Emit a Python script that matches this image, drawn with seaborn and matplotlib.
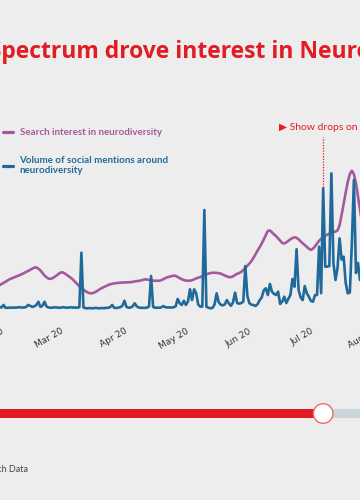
import numpy as np
import pandas as pd
import matplotlib
matplotlib.use("Agg")
import matplotlib.pyplot as plt
import matplotlib.dates as mdates
from matplotlib.lines import Line2D
from matplotlib.patches import Circle, Rectangle
import seaborn as sns

BG = "#eeeded"
RED = "#e31b23"
PURPLE = "#a3599e"
BLUE = "#1f6a9a"

# daily values from 14 Feb 2020, index 0-100 style
search_interest = [
    15.0, 15.9, 16.8, 17.7, 18.5, 19.4, 20.2, 21.1, 22.0, 22.6,
    23.2, 23.8, 24.4, 25.0, 25.7, 26.4, 27.2, 27.9, 28.7, 29.5,
    30.3, 30.4, 29.5, 28.3, 26.5, 24.6, 23.3, 22.4, 22.2, 22.8,
    23.7, 24.9, 26.0, 26.8, 26.8, 26.0, 24.9, 23.9, 22.8, 21.5,
    20.0, 18.5, 17.0, 15.8, 14.6, 13.5, 12.6, 12.0, 11.9, 12.3,
    13.0, 13.9, 14.9, 15.7, 16.4, 17.1, 17.8, 18.4, 18.7, 19.0,
    19.2, 19.4, 19.5, 19.6, 19.7, 19.7, 19.8, 19.9, 20.1, 20.4,
    20.6, 20.8, 21.1, 21.5, 21.9, 21.8, 21.5, 21.2, 21.0, 20.9,
    20.9, 20.9, 21.3, 22.0, 22.8, 23.4, 23.8, 24.2, 24.5, 24.4,
    23.6, 22.7, 22.0, 21.4, 21.0, 20.9, 20.9, 21.3, 21.9, 22.5,
    23.1, 23.5, 24.2, 24.9, 25.5, 26.0, 26.4, 26.6, 26.6, 26.5,
    26.3, 26.0, 25.3, 24.6, 24.0, 23.5, 23.5, 24.1, 25.0, 25.8,
    26.4, 27.2, 28.5, 30.0, 31.6, 33.2, 35.0, 37.3, 39.9, 42.5,
    44.9, 47.5, 50.4, 53.6, 56.5, 56.8, 55.5, 54.0, 52.8, 51.2,
    49.5, 47.9, 47.5, 48.3, 49.4, 50.5, 51.4, 51.9, 51.6, 50.5,
    49.0, 47.7, 46.4, 45.0, 43.8, 43.0, 43.7, 45.5, 47.5, 49.5,
    50.8, 51.9, 53.0, 53.8, 54.6, 55.2, 55.6, 56.0, 56.8, 60.5,
    68.0, 76.0, 84.0, 91.5, 97.0, 99.5, 97.0, 90.5, 81.0, 71.0,
    62.0, 55.0, 50.0,
]
social_mentions = [
    2.0, 1.8, 1.9, 2.2, 1.8, 3.6, 1.5, 1.6, 1.7, 1.6,
    1.8, 1.6, 1.9, 2.0, 1.7, 1.8, 2.1, 3.6, 3.0, 2.2,
    2.6, 3.5, 5.9, 2.2, 3.0, 5.9, 2.4, 1.8, 1.6, 1.7,
    1.9, 1.8, 1.6, 1.7, 2.0, 1.8, 1.6, 1.8, 1.9, 1.7,
    1.8, 1.6, 2.0, 40.9, 1.8, 1.3, 1.2, 1.4, 1.2, 1.3,
    1.5, 1.3, 1.2, 1.4, 1.3, 1.5, 1.6, 2.0, 3.6, 1.6,
    1.4, 1.7, 2.0, 3.0, 6.6, 2.2, 1.6, 1.8, 2.6, 4.8,
    2.6, 1.8, 1.5, 1.6, 1.5, 1.7, 2.5, 24.3, 2.2, 1.6,
    1.7, 1.6, 1.9, 2.8, 2.0, 1.8, 1.9, 1.7, 2.0, 2.6,
    7.9, 4.8, 3.6, 6.6, 3.6, 6.0, 14.8, 7.1, 14.8, 12.1,
    4.0, 2.4, 2.4, 71.4, 2.4, 1.6, 1.2, 1.5, 4.0, 11.9,
    5.5, 3.8, 3.3, 4.0, 7.1, 4.6, 3.0, 5.5, 12.4, 5.0,
    4.5, 5.0, 6.0, 31.4, 10.0, 4.8, 3.8, 3.5, 2.9, 4.2,
    7.0, 9.0, 14.0, 15.5, 10.7, 18.6, 13.1, 11.5, 10.7, 13.1,
    4.3, 6.0, 9.5, 5.0, 8.0, 10.7, 22.1, 16.6, 43.4, 14.3,
    9.0, 7.1, 17.1, 12.0, 9.5, 6.5, 5.9, 10.7, 10.7, 45.2,
    12.0, 86.9, 30.9, 31.0, 31.4, 97.6, 33.4, 21.4, 30.0, 51.2,
    36.0, 38.1, 19.1, 11.9, 12.5, 47.9, 92.9, 26.4, 33.6, 21.4,
    35.0, 28.0, 30.0,
]
series_names = ["Search interest in neurodiversity",
                "Volume of social mentions around\nneurodiversity"]
tick_dates = pd.to_datetime(["2020-02-20", "2020-03-20", "2020-04-20", "2020-05-20",
                             "2020-06-20", "2020-07-20", "2020-08-20"])
show_drop = pd.Timestamp("2020-07-24")

dates = pd.date_range("2020-02-14", periods=len(search_interest), freq="D")
df = pd.DataFrame({"date": dates,
                   series_names[0]: search_interest,
                   series_names[1]: social_mentions})
long_df = df.melt(id_vars="date", var_name="series", value_name="value")

sns.set_style("white")
plt.rcParams["font.family"] = ["Lato", "DejaVu Sans"]

fig = plt.figure(figsize=(3.6, 5), dpi=100)
fig.patch.set_facecolor(BG)

# axes run past the figure edges, like a crop of a wider chart
ax = fig.add_axes([-0.08125, 0.38, 1.16681, 0.378])
ax.set_facecolor(BG)
sns.lineplot(data=long_df, x="date", y="value", hue="series",
             hue_order=series_names, palette=[PURPLE, BLUE],
             linewidth=1.9, legend=False, ax=ax)

ax.set_xlim(pd.Timestamp("2020-02-03"), pd.Timestamp("2020-08-26"))
ax.set_ylim(0, 135)
ax.set_xticks(tick_dates)
ax.xaxis.set_major_formatter(mdates.DateFormatter("%b %d"))
ax.set_yticks([])
ax.set_xlabel("")
ax.set_ylabel("")
ax.tick_params(axis="x", length=0, pad=12, labelsize=6.5, labelcolor="#333333")
for lab in ax.get_xticklabels():
    lab.set_rotation(30)
    lab.set_ha("right")
    lab.set_family("DejaVu Sans")
sns.despine(ax=ax, left=True, bottom=True)

# show release marker
peak = df.loc[df["date"] == show_drop, series_names[1]].iloc[0]
ax.vlines(show_drop, peak + 1, 123.6, colors=RED, linestyles=(0, (1, 1.2)), lw=0.9)
ax.annotate("\u25B6 Show drops on Netflix", xy=(show_drop, 123.6),
            xytext=(-32, 7), textcoords="offset points",
            ha="left", va="center", color=RED, fontsize=7.5)

handles = [Line2D([0], [0], color=PURPLE, lw=2.3),
           Line2D([0], [0], color=BLUE, lw=2.3)]
fig.legend(handles, series_names, loc="upper left",
           bbox_to_anchor=(3 / 360, 1 - 128 / 500), frameon=False,
           handlelength=1.0, handletextpad=0.7, labelspacing=1.95,
           borderpad=0, borderaxespad=0,
           prop=dict(family="Lato", weight="bold", size=7),
           labelcolor=[PURPLE, BLUE])

fig.text(-150 / 360, 1 - 52 / 500,
         "Love on the Spectrum drove interest in Neurodiversity",
         color=RED, fontsize=16.5, weight="bold", family="Open Sans",
         ha="left", va="center")

fig.text(28 / 360, 1 - 470 / 500, "Source: Google Trends, Brandwatch Data",
         ha="right", va="center", fontsize=6.5, color="#444444")

# timeline slider under the chart
knob_x = ax.transData.transform((mdates.date2num(show_drop), 0))[0]
deco = fig.add_axes([0, 0, 1, 1])
deco.set_xlim(0, 360)
deco.set_ylim(500, 0)
deco.axis("off")
deco.patch.set_alpha(0)
deco.add_patch(Rectangle((-5, 409.2), knob_x + 5, 8.6, color=RED, lw=0))
deco.add_patch(Rectangle((knob_x, 409.2), 400, 8.6, color="#cbd5dc", lw=0))
deco.add_patch(Circle((knob_x, 413.5), 9.8, facecolor="white",
                      edgecolor="#ee6b6b", lw=1))

fig.savefig("out.png", dpi=100, facecolor=BG)
